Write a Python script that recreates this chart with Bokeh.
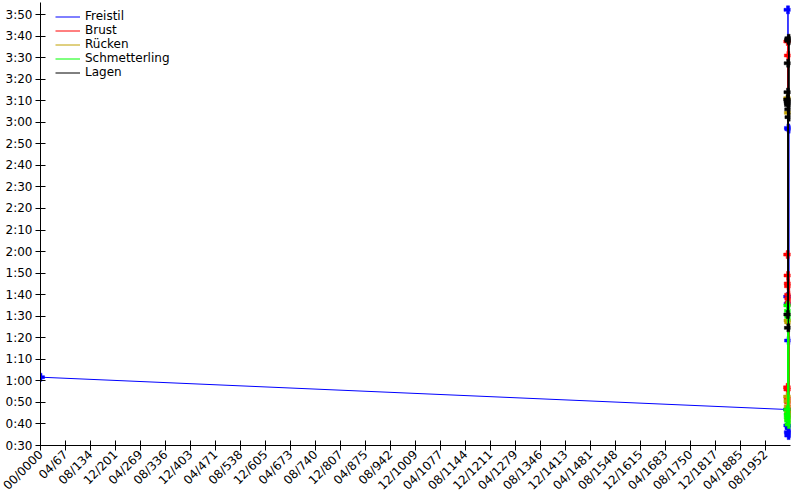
from bokeh.plotting import figure
from bokeh.models import FixedTicker, Range1d, Legend, LegendItem
from bokeh.embed import file_html
from bokeh.resources import INLINE
import math

# ---- data (x: decimal years, y: seconds) ----
freistil_years = [0.0, 2012.0, 2012.4, 2012.8, 2013.2, 2013.6, 2014.0, 2014.4, 2014.8, 2015.2, 2015.6, 2016.0, 2016.4]
freistil_secs = [61.7, 46.7, 99.1, 39.3, 232.2, 95.8, 36.2, 177.4, 78.7, 34.6, 176.8, 38.0, 35.5]

brust_years = [2012.1, 2012.4, 2012.7, 2013.0, 2013.3, 2013.6, 2013.9, 2014.2, 2014.5, 2014.8, 2015.1, 2015.4, 2015.7, 2016.0, 2016.3]
brust_secs = [57.0, 118.6, 217.5, 56.0, 108.9, 51.9, 105.2, 211.0, 103.9, 50.1, 100.0, 98.2, 47.0, 96.5, 44.8]

ruecken_years = [2012.2, 2012.6, 2013.0, 2013.4, 2013.8, 2014.2, 2014.6, 2015.0, 2015.4, 2015.8]
ruecken_secs = [52.7, 191.2, 50.5, 88.0, 48.2, 184.4, 46.0, 87.1, 44.0, 42.0]

schmetterling_years = [2012.3, 2012.8, 2013.3, 2013.8, 2014.3, 2014.8, 2015.3, 2015.8]
schmetterling_secs = [46.6, 95.0, 44.5, 43.0, 92.5, 41.5, 89.7, 39.7]

lagen_years = [2012.5, 2012.8, 2013.1, 2013.4, 2013.7, 2014.0, 2014.3, 2014.6, 2014.9, 2015.2, 2015.5, 2015.8, 2016.1]
lagen_secs = [190.6, 90.8, 194.0, 189.8, 207.4, 189.0, 84.6, 188.0, 218.2, 186.0, 219.0, 182.4, 217.8]

series_names = ["Freistil", "Brust", "Rücken", "Schmetterling", "Lagen"]
series_colors = ["#0000ff", "#ff0000", "#c0a000", "#00ff00", "#000000"]

x_tick_labels = ["00/0000", "04/67", "08/134", "12/201", "04/269", "08/336", "12/403",
                 "04/471", "08/538", "12/605", "04/673", "08/740", "12/807", "04/875",
                 "08/942", "12/1009", "04/1077", "08/1144", "12/1211", "04/1279",
                 "08/1346", "12/1413", "04/1481", "08/1548", "12/1615", "04/1683",
                 "08/1750", "12/1817", "04/1885", "08/1952"]
x_tick_step = 67 + 4 / 12.0
y_tick_values = list(range(30, 231, 10))

FONT = "DejaVu Sans"

p = figure(width=800, height=500, output_backend="svg", toolbar_location=None,
           x_range=Range1d(0, 2020), y_range=Range1d(30, 235.6),
           min_border_left=40, min_border_right=10, min_border_top=2, min_border_bottom=55)
p.outline_line_color = None
p.xgrid.visible = False
p.ygrid.visible = False
p.background_fill_color = "white"
p.border_fill_color = "white"

data = [(freistil_years, freistil_secs), (brust_years, brust_secs),
        (ruecken_years, ruecken_secs), (schmetterling_years, schmetterling_secs),
        (lagen_years, lagen_secs)]
items = []
for (xs, ys), name, col in zip(data, series_names, series_colors):
    r = p.line(xs, ys, line_color=col, line_width=1)
    p.scatter(xs, ys, marker="plus", size=8, fill_color=col, line_color=col, line_width=0.5)
    items.append(LegendItem(label=name, renderers=[r]))

legend = Legend(items=items, location=(15, 366), margin=0, padding=0, spacing=0,
                glyph_width=25, glyph_height=13, label_height=13, label_standoff=5,
                label_text_font=FONT, label_text_font_size="12px", label_text_color="#000000",
                background_fill_alpha=0, border_line_color=None)
p.add_layout(legend)

xt = [i * x_tick_step for i in range(len(x_tick_labels))]
p.xaxis.ticker = FixedTicker(ticks=xt, minor_ticks=[])
p.xaxis.major_label_overrides = {xt[i]: x_tick_labels[i] for i in range(len(xt))}
p.xaxis.major_label_orientation = math.pi / 4
p.xaxis.major_label_standoff = 2

p.yaxis.ticker = FixedTicker(ticks=y_tick_values, minor_ticks=[])
p.yaxis.major_label_overrides = {v: "%d:%02d" % (v // 60, v % 60) for v in y_tick_values}
p.yaxis.major_label_standoff = 3

for ax in (p.xaxis[0], p.yaxis[0]):
    ax.axis_line_color = "#000000"
    ax.major_tick_line_color = "#000000"
    ax.major_tick_in = 5
    ax.major_tick_out = 5
    ax.minor_tick_line_color = None
    ax.major_label_text_font = FONT
    ax.major_label_text_font_size = "12px"
    ax.major_label_text_color = "#000000"

open("out.html", "w").write(file_html(p, INLINE))
